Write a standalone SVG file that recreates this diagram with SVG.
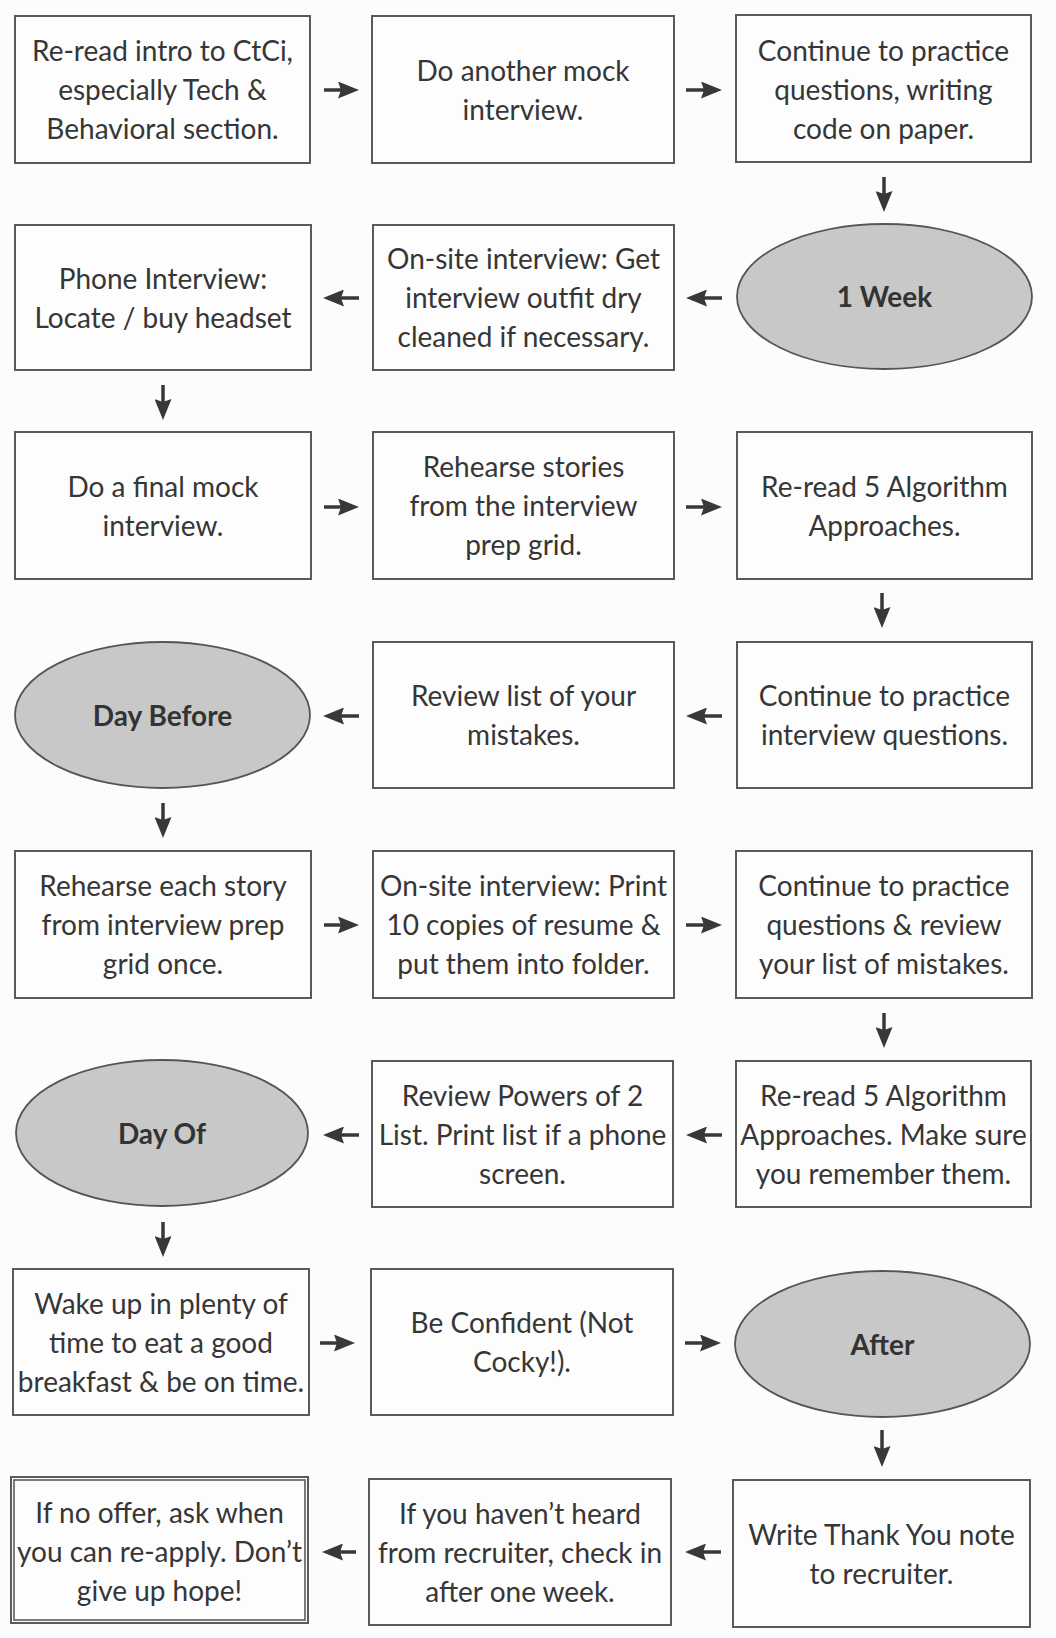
<svg xmlns="http://www.w3.org/2000/svg" width="1056" height="1638" viewBox="0 0 1056 1638">
<defs>
<style>
.bg{fill:#fcfcfc}
.box{fill:#fdfdfd;stroke:#5a5a5a;stroke-width:2}
.dbl{fill:none;stroke:#5a5a5a;stroke-width:1.6}
.oval{fill:#c8c8c8;stroke:#555;stroke-width:1.8}
.t{font-family:Lato,"Liberation Sans",sans-serif;font-size:28px;fill:#363636;text-anchor:middle}
.b{font-weight:bold;fill:#333}
.arr{fill:none;stroke:#383838;stroke-width:3.5;marker-end:url(#ah)}
</style>
<marker id="ah" viewBox="0 0 21 17" markerWidth="21" markerHeight="17" refX="8" refY="8.5" orient="auto" markerUnits="userSpaceOnUse">
<path d="M0,0 L21,8.5 L0,17 L3,8.5 Z" fill="#383838"/>
</marker>
</defs>
<rect class="bg" x="0" y="0" width="1056" height="1638"/>

<g id="connectors">
<line class="arr" x1="324" y1="90" x2="346" y2="90"/>
<line class="arr" x1="686" y1="90" x2="709" y2="90"/>
<line class="arr" x1="884" y1="177" x2="884" y2="199"/>
<line class="arr" x1="722" y1="298" x2="699" y2="298"/>
<line class="arr" x1="359" y1="298" x2="336" y2="298"/>
<line class="arr" x1="163" y1="385" x2="163" y2="407"/>
<line class="arr" x1="324" y1="507" x2="346" y2="507"/>
<line class="arr" x1="686" y1="507" x2="709" y2="507"/>
<line class="arr" x1="882" y1="593" x2="882" y2="615"/>
<line class="arr" x1="722" y1="716" x2="699" y2="716"/>
<line class="arr" x1="359" y1="716" x2="336" y2="716"/>
<line class="arr" x1="163" y1="803" x2="163" y2="825"/>
<line class="arr" x1="324" y1="925" x2="346" y2="925"/>
<line class="arr" x1="686" y1="925" x2="709" y2="925"/>
<line class="arr" x1="884" y1="1013" x2="884" y2="1035"/>
<line class="arr" x1="722" y1="1135" x2="699" y2="1135"/>
<line class="arr" x1="359" y1="1135" x2="336" y2="1135"/>
<line class="arr" x1="163" y1="1222" x2="163" y2="1244"/>
<line class="arr" x1="320" y1="1343" x2="342" y2="1343"/>
<line class="arr" x1="685" y1="1343" x2="708" y2="1343"/>
<line class="arr" x1="882" y1="1430" x2="882" y2="1454"/>
<line class="arr" x1="721" y1="1552" x2="698" y2="1552"/>
<line class="arr" x1="356" y1="1552" x2="335" y2="1552"/>
</g>

<g id="n1">
<rect class="box" x="15" y="16" width="295" height="147"/>
<text class="t" x="162.5" y="61">Re-read intro to CtCi,</text>
<text class="t" x="162.5" y="100">especially Tech &amp;</text>
<text class="t" x="162.5" y="139">Behavioral section.</text>
</g>
<g id="n2">
<rect class="box" x="372" y="16" width="302" height="147"/>
<text class="t" x="523" y="81">Do another mock</text>
<text class="t" x="523" y="120">interview.</text>
</g>
<g id="n3">
<rect class="box" x="736" y="15" width="295" height="147"/>
<text class="t" x="883.5" y="61">Continue to practice</text>
<text class="t" x="883.5" y="100">questions, writing</text>
<text class="t" x="883.5" y="139">code on paper.</text>
</g>
<g id="n4">
<ellipse class="oval" cx="884.5" cy="296.5" rx="147.5" ry="72.5"/>
<text class="t b" x="884.5" y="307">1 Week</text>
</g>
<g id="n5">
<rect class="box" x="373" y="225" width="301" height="145"/>
<text class="t" x="523.5" y="269">On-site interview: Get</text>
<text class="t" x="523.5" y="308">interview outfit dry</text>
<text class="t" x="523.5" y="347">cleaned if necessary.</text>
</g>
<g id="n6">
<rect class="box" x="15" y="225" width="296" height="145"/>
<text class="t" x="163" y="288.5">Phone Interview:</text>
<text class="t" x="163" y="327.5">Locate / buy headset</text>
</g>
<g id="n7">
<rect class="box" x="15" y="432" width="296" height="147"/>
<text class="t" x="163" y="496.5">Do a final mock</text>
<text class="t" x="163" y="535.5">interview.</text>
</g>
<g id="n8">
<rect class="box" x="373" y="432" width="301" height="147"/>
<text class="t" x="523.5" y="477">Rehearse stories</text>
<text class="t" x="523.5" y="516">from the interview</text>
<text class="t" x="523.5" y="555">prep grid.</text>
</g>
<g id="n9">
<rect class="box" x="737" y="432" width="295" height="147"/>
<text class="t" x="884.5" y="496.5">Re-read 5 Algorithm</text>
<text class="t" x="884.5" y="535.5">Approaches.</text>
</g>
<g id="n10">
<rect class="box" x="737" y="642" width="295" height="146"/>
<text class="t" x="884.5" y="706">Continue to practice</text>
<text class="t" x="884.5" y="745">interview questions.</text>
</g>
<g id="n11">
<rect class="box" x="373" y="642" width="301" height="146"/>
<text class="t" x="523.5" y="706">Review list of your</text>
<text class="t" x="523.5" y="745">mistakes.</text>
</g>
<g id="n12">
<ellipse class="oval" cx="162.5" cy="715" rx="147.5" ry="73"/>
<text class="t b" x="162.5" y="725.5">Day Before</text>
</g>
<g id="n13">
<rect class="box" x="15" y="851" width="296" height="147"/>
<text class="t" x="163" y="896">Rehearse each story</text>
<text class="t" x="163" y="935">from interview prep</text>
<text class="t" x="163" y="974">grid once.</text>
</g>
<g id="n14">
<rect class="box" x="373" y="851" width="301" height="147"/>
<text class="t" x="523.5" y="896">On-site interview: Print</text>
<text class="t" x="523.5" y="935">10 copies of resume &amp;</text>
<text class="t" x="523.5" y="974">put them into folder.</text>
</g>
<g id="n15">
<rect class="box" x="736" y="851" width="296" height="147"/>
<text class="t" x="884" y="896">Continue to practice</text>
<text class="t" x="884" y="935">questions &amp; review</text>
<text class="t" x="884" y="974">your list of mistakes.</text>
</g>
<g id="n16">
<rect class="box" x="736" y="1061" width="295" height="146"/>
<text class="t" x="883.5" y="1105.5">Re-read 5 Algorithm</text>
<text class="t" x="883.5" y="1144.5">Approaches. Make sure</text>
<text class="t" x="883.5" y="1183.5">you remember them.</text>
</g>
<g id="n17">
<rect class="box" x="372" y="1061" width="301" height="146"/>
<text class="t" x="522.5" y="1105.5">Review Powers of 2</text>
<text class="t" x="522.5" y="1144.5">List. Print list if a phone</text>
<text class="t" x="522.5" y="1183.5">screen.</text>
</g>
<g id="n18">
<ellipse class="oval" cx="162" cy="1133" rx="146" ry="73"/>
<text class="t b" x="162" y="1143.5">Day Of</text>
</g>
<g id="n19">
<rect class="box" x="13" y="1269" width="296" height="146"/>
<text class="t" x="161" y="1313.5">Wake up in plenty of</text>
<text class="t" x="161" y="1352.5">time to eat a good</text>
<text class="t" x="161" y="1391.5">breakfast &amp; be on time.</text>
</g>
<g id="n20">
<rect class="box" x="371" y="1269" width="302" height="146"/>
<text class="t" x="522" y="1333">Be Confident (Not</text>
<text class="t" x="522" y="1372">Cocky!).</text>
</g>
<g id="n21">
<ellipse class="oval" cx="882.5" cy="1344" rx="147.5" ry="73"/>
<text class="t b" x="882.5" y="1354.5">After</text>
</g>
<g id="n22">
<rect class="box" x="733" y="1480" width="297" height="147"/>
<text class="t" x="881.5" y="1544.5">Write Thank You note</text>
<text class="t" x="881.5" y="1583.5">to recruiter.</text>
</g>
<g id="n23">
<rect class="box" x="369" y="1479" width="302" height="146"/>
<text class="t" x="520" y="1523.5">If you haven’t heard</text>
<text class="t" x="520" y="1562.5">from recruiter, check in</text>
<text class="t" x="520" y="1601.5">after one week.</text>
</g>
<g id="n24">
<rect class="box" x="11" y="1477" width="297" height="146"/>
<rect class="dbl" x="14" y="1480" width="291" height="140"/>
<text class="t" x="159.5" y="1522.5">If no offer, ask when</text>
<text class="t" x="159.5" y="1561.5">you can re-apply. Don’t</text>
<text class="t" x="159.5" y="1600.5">give up hope!</text>
</g>
</svg>
